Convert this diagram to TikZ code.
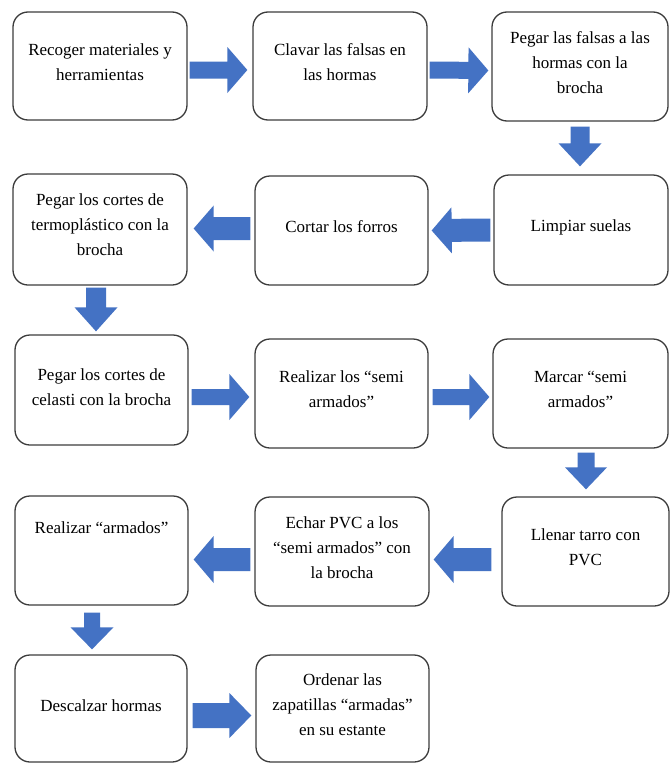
\documentclass[tikz,border=0pt]{standalone}
\usepackage{fontspec}
\setmainfont{Liberation Serif}
\usetikzlibrary{calc}
\definecolor{flowblue}{HTML}{4472C4}
\definecolor{boxline}{HTML}{3C3C3C}
% block arrow as one filled outline:
% #1 start, #2 tip, #3 half shaft width, #4 half head width, #5 head length (pt)
\newcommand\blockarrow[5]{%
  \coordinate (ba-s) at (#1);
  \coordinate (ba-e) at (#2);
  \coordinate (ba-h) at ($(ba-e)!#5pt!(ba-s)$);
  \fill[flowblue]
    ($(ba-s)!#3pt!90:(ba-e)$) -- ($(ba-h)!#3pt!-90:(ba-s)$) --
    ($(ba-h)!#4pt!-90:(ba-s)$) -- (ba-e) --
    ($(ba-h)!#4pt!90:(ba-s)$) -- ($(ba-h)!#3pt!90:(ba-s)$) --
    ($(ba-s)!#3pt!-90:(ba-e)$) -- cycle;}
\begin{document}
\begin{tikzpicture}[x=1pt,y=-1pt,
  stepbox/.style={draw=boxline,line width=1.3pt,rounded corners=15pt,fill=white,inner sep=0pt},
  steptext/.style={align=center,inner sep=0pt,font=\fontsize{17}{25}\selectfont}]
\useasboundingbox[fill=white] (0,0) rectangle (670,763);

% process steps (shapes)
\node[stepbox,minimum width=174pt,minimum height=108pt] (b1)  at (100,66) {};
\node[stepbox,minimum width=174pt,minimum height=108pt] (b2)  at (340,66) {};
\node[stepbox,minimum width=176pt,minimum height=109pt] (b3)  at (580,66.5) {};
\node[stepbox,minimum width=174pt,minimum height=111pt] (b4)  at (100,229.5) {};
\node[stepbox,minimum width=173pt,minimum height=109pt] (b5)  at (341.5,230.5) {};
\node[stepbox,minimum width=174pt,minimum height=110pt] (b6)  at (581,230) {};
\node[stepbox,minimum width=173pt,minimum height=110pt] (b7)  at (101.5,390) {};
\node[stepbox,minimum width=173pt,minimum height=109pt] (b8)  at (341.5,393.5) {};
\node[stepbox,minimum width=175pt,minimum height=109pt] (b9)  at (580.5,393.5) {};
\node[stepbox,minimum width=173pt,minimum height=109pt] (b10) at (101.5,550.5) {};
\node[stepbox,minimum width=174pt,minimum height=109pt] (b11) at (342,551.5) {};
\node[stepbox,minimum width=167pt,minimum height=109pt] (b12) at (585.5,551.5) {};
\node[stepbox,minimum width=172pt,minimum height=107pt] (b13) at (101,708.5) {};
\node[stepbox,minimum width=173pt,minimum height=107pt] (b14) at (342.5,708.5) {};

% step labels
\node[steptext] (t1)  at (100,62.5)   {Recoger materiales y\\herramientas};
\node[steptext] (t2)  at (340,62.5)   {Clavar las falsas en\\las hormas};
\node[steptext] (t3)  at (580,62.5)   {Pegar las falsas a las\\hormas con la\\brocha};
\node[steptext] (t4)  at (100,225)    {Pegar los cortes de\\termoplástico con la\\brocha};
\node[steptext] (t5)  at (341.5,227)  {Cortar los forros};
\node[steptext] (t6)  at (581,227)    {Limpiar suelas};
\node[steptext] (t7)  at (101.5,387)  {Pegar los cortes de\\celasti con la brocha};
\node[steptext] (t8)  at (341.5,389)  {Realizar los “semi\\armados”};
\node[steptext] (t9)  at (580.5,389)  {Marcar “semi\\armados”};
\node[steptext] (t10) at (101.5,528)  {Realizar “armados”};
\node[steptext] (t11) at (342,548)    {Echar PVC a los\\“semi armados” con\\la brocha};
\node[steptext] (t12) at (585.5,547)  {Llenar tarro con\\PVC};
\node[steptext] (t13) at (101,706)    {Descalzar hormas};
\node[steptext] (t14) at (342.5,705)  {Ordenar las\\zapatillas “armadas”\\en su estante};

% block arrows between the steps
\blockarrow{$(b1.east)+(2,4)$}{$(b2.west)+(-5,4)$}{8.5}{23}{20}
\blockarrow{$(b2.east)+(2,4)$}{$(b3.west)+(-3,4)$}{8.5}{23}{20}
\blockarrow{$(b3.south)+(0,5)$}{$(b6.north)+(-1,-8)$}{9.5}{21.5}{23}
\blockarrow{$(b6.west)+(-3,0)$}{$(b5.east)+(3,0)$}{11.5}{23}{20}
\blockarrow{$(b5.west)+(-4,-2)$}{$(b4.east)+(6,-1)$}{11.5}{23}{20}
\blockarrow{$(b4.south)+(-4,2)$}{$(b7.north)+(-5.5,-3)$}{10}{21.5}{24}
\blockarrow{$(b7.east)+(3,7)$}{$(b8.west)+(-5,3.5)$}{8}{23}{20}
\blockarrow{$(b8.east)+(4,3.5)$}{$(b9.west)+(-3,3.5)$}{8}{23}{20}
\blockarrow{$(b9.south)+(5.5,4)$}{$(b12.north)+(0.5,-7)$}{8.5}{21}{22}
\blockarrow{$(b12.west)+(-10,8)$}{$(b11.east)+(4,8)$}{11.5}{23.5}{20}
\blockarrow{$(b11.west)+(-4,8)$}{$(b10.east)+(5,9)$}{11.5}{23.5}{20}
\blockarrow{$(b10.south)+(-9.5,7)$}{$(b13.north)+(-9,-5)$}{8}{21.5}{22}
\blockarrow{$(b13.east)+(5,7)$}{$(b14.west)+(-4,7)$}{12.5}{22.5}{22}
\end{tikzpicture}
\end{document}
